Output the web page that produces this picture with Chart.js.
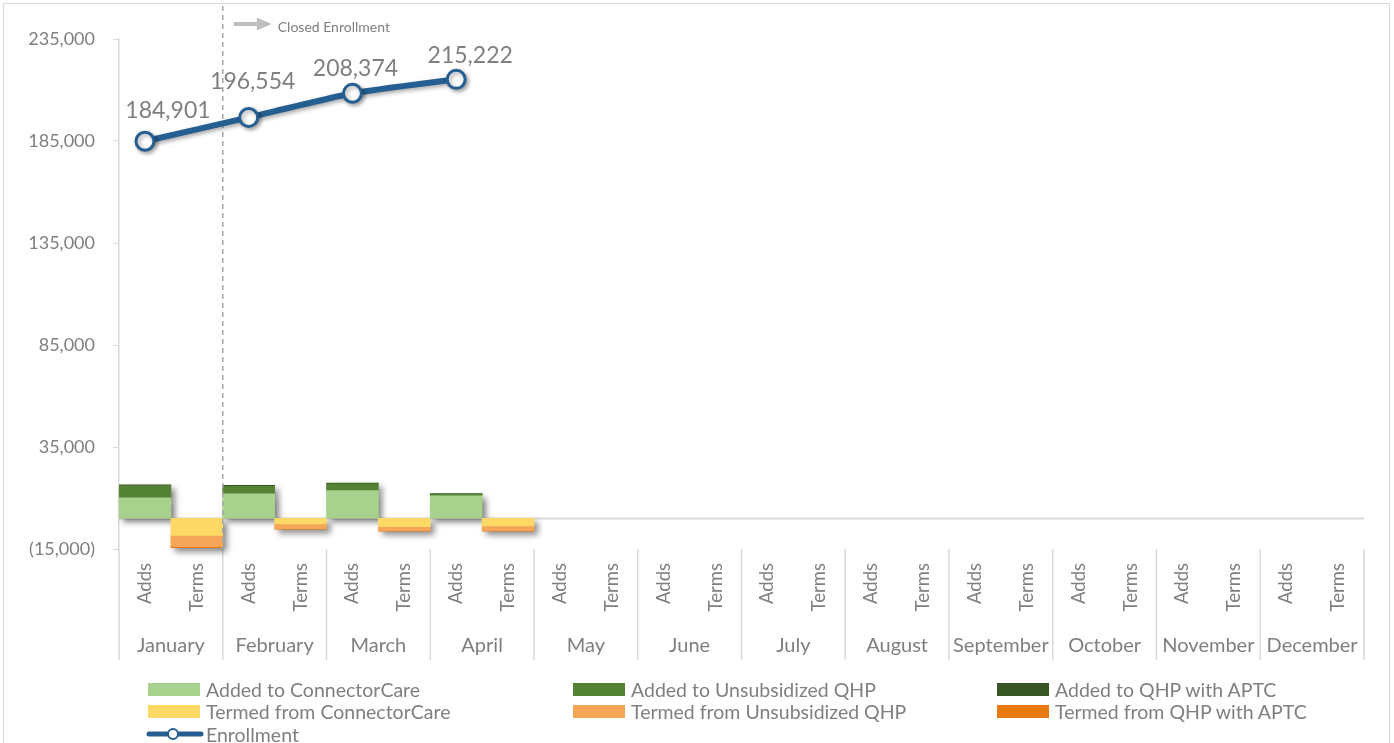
<!DOCTYPE html>
<html>
<head>
<meta charset="utf-8">
<title>Enrollment Adds and Terms</title>
<script src="https://cdn.jsdelivr.net/npm/chart.js@4.4.1/dist/chart.umd.min.js"></script>
<style>
  html, body { margin: 0; padding: 0; background: #fff; }
  #wrap { position: relative; width: 1394px; height: 743px; overflow: hidden; font-family: Lato, 'Noto Sans', sans-serif; }
  #frame { position: absolute; left: 3px; top: 3px; width: 1385px; height: 760px; border: 1px solid #d9d9d9; pointer-events: none; }
  #chart { position: absolute; left: 0; top: 0; }
  #legend { position: absolute; left: 146px; top: 678px; display: grid; grid-template-columns: 425px 424px 380px; row-gap: 0; }
  .item { display: flex; align-items: center; height: 22.5px; color: #7f7f7f; font-size: 19.5px; white-space: nowrap; }
  .swatch { flex: 0 0 52px; width: 52px; height: 13px; margin-left: 2px; margin-right: 6px; }
  .item svg { flex: 0 0 auto; }
</style>
</head>
<body>
<div id="wrap">
  <canvas id="chart" width="1394" height="743"></canvas>
  <div id="legend"></div>
  <div id="frame"></div>
</div>
<script>
const months = ['January', 'February', 'March', 'April', 'May', 'June', 'July', 'August', 'September', 'October', 'November', 'December'];
const subLabels = ['Adds', 'Terms'];
const enrollment = [184901, 196554, 208374, 215222];
const addedConnectorCare = [10100, 12100, 13600, 11100];
const addedUnsubsidized = [6000, 3600, 3400, 800];
const addedAptc = [400, 500, 300, 300];
const termedConnectorCare = [-8300, -2700, -4000, -3700];
const termedUnsubsidized = [-5600, -2300, -2000, -2300];
const termedAptc = [-500, -300, -200, -200];
const yTicks = [-15000, 35000, 85000, 135000, 185000, 235000];

// where each enrollment label sits relative to its point (px)
const labelOffsets = [[23, -31], [4, -36], [3, -25], [14, -24]];

const gray = '#7f7f7f';
const lineBlue = '#255e91';
const baseFont = 'Lato, "Noto Sans", sans-serif';

// one slot per month half: even index = Adds, odd index = Terms
const labels = [];
months.forEach(() => subLabels.forEach(s => labels.push(s)));

function spread(values, slot) {
    const out = new Array(months.length * 2).fill(null);
    values.forEach((v, i) => { out[i * 2 + slot] = v; });
    return out;
}

function fmt(v) {
    const s = Math.abs(v).toLocaleString('en-US');
    return v < 0 ? '(' + s + ')' : s;
}

const datasets = [
    {
        type: 'line', label: 'Enrollment', data: spread(enrollment, 0), order: 0,
        borderColor: lineBlue, borderWidth: 6, spanGaps: true, tension: 0.15,
        pointRadius: 9, pointBorderWidth: 3, pointBackgroundColor: '#fff', pointBorderColor: lineBlue,
        borderCapStyle: 'round'
    },
    { label: 'Added to ConnectorCare', data: spread(addedConnectorCare, 0), backgroundColor: '#a9d18e' },
    { label: 'Added to Unsubsidized QHP', data: spread(addedUnsubsidized, 0), backgroundColor: '#548235' },
    { label: 'Added to QHP with APTC', data: spread(addedAptc, 0), backgroundColor: '#375623' },
    { label: 'Termed from ConnectorCare', data: spread(termedConnectorCare, 1), backgroundColor: '#ffd966' },
    { label: 'Termed from Unsubsidized QHP', data: spread(termedUnsubsidized, 1), backgroundColor: '#f4a557' },
    { label: 'Termed from QHP with APTC', data: spread(termedAptc, 1), backgroundColor: '#e8790f' }
];
datasets.slice(1).forEach(d => {
    d.type = 'bar';
    d.order = 1;
    d.stack = 'flow';
    d.barPercentage = 1;
    d.categoryPercentage = 1;
    d.borderWidth = 0;
});

// dashed divider between January and February with the "Closed Enrollment" arrow
function drawClosedMarker(chart) {
    const ctx = chart.ctx;
    const x = chart.scales.x;
    const bx = (x.getPixelForValue(1) + x.getPixelForValue(2)) / 2;
    ctx.save();
    ctx.strokeStyle = '#a6a6a6';
    ctx.lineWidth = 1.5;
    ctx.setLineDash([5, 4]);
    ctx.beginPath();
    ctx.moveTo(bx, 6);
    ctx.lineTo(bx, chart.chartArea.bottom);
    ctx.stroke();
    ctx.setLineDash([]);
    ctx.fillStyle = '#bfbfbf';
    ctx.fillRect(bx + 11, 22, 25, 4);
    ctx.beginPath();
    ctx.moveTo(bx + 34, 17.5);
    ctx.lineTo(bx + 49, 24);
    ctx.lineTo(bx + 34, 30.5);
    ctx.closePath();
    ctx.fill();
    ctx.fillStyle = gray;
    ctx.font = '14px ' + baseFont;
    ctx.textAlign = 'left';
    ctx.textBaseline = 'middle';
    ctx.fillText('Closed Enrollment', bx + 55, 27);
    ctx.restore();
}

// zero line, month separators, and one shared shadow pass under the bar stacks
const axisPlugin = {
    id: 'axisLines',
    beforeDatasetsDraw(chart) {
        const ctx = chart.ctx;
        const x = chart.scales.x, y = chart.scales.y, x2 = chart.scales.x2;
        const area = chart.chartArea;
        ctx.save();
        ctx.strokeStyle = '#d9d9d9';
        ctx.lineWidth = 2;
        const y0 = y.getPixelForValue(0);
        ctx.beginPath();
        ctx.moveTo(area.left, y0);
        ctx.lineTo(area.right, y0);
        ctx.stroke();
        ctx.lineWidth = 1.5;
        const step = x.width / months.length;
        for (let i = 0; i <= months.length; i++) {
            const px = x.left + i * step;
            ctx.beginPath();
            ctx.moveTo(px, area.bottom);
            ctx.lineTo(px, x2.bottom);
            ctx.stroke();
        }
        ctx.restore();

        // shadows only: shapes are drawn far off-canvas, their shadows land under the bars
        const far = 10000;
        ctx.save();
        ctx.shadowColor = 'rgba(0,0,0,0.5)';
        ctx.shadowBlur = 6;
        ctx.shadowOffsetX = far + 4;
        ctx.shadowOffsetY = 4;
        ctx.fillStyle = '#000';
        chart.data.datasets.forEach((ds, di) => {
            if (ds.type !== 'bar') return;
            chart.getDatasetMeta(di).data.forEach((bar, i) => {
                if (ds.data[i] == null) return;
                const p = bar.getProps(['x', 'y', 'base', 'width'], true);
                const top = Math.min(p.y, p.base), h = Math.abs(p.base - p.y);
                if (h < 0.5) return;
                ctx.fillRect(p.x - p.width / 2 - far, top, p.width, h);
            });
        });
        ctx.restore();
    },
    beforeDatasetDraw(chart, args) {
        if (chart.data.datasets[args.index].type !== 'line') return;
        drawClosedMarker(chart);
        const ctx = chart.ctx;
        ctx.save();
        ctx.shadowColor = 'rgba(0,0,0,0.35)';
        ctx.shadowBlur = 4;
        ctx.shadowOffsetX = 2;
        ctx.shadowOffsetY = 2;
    },
    afterDatasetDraw(chart, args) {
        if (chart.data.datasets[args.index].type !== 'line') return;
        chart.ctx.restore();
    }
};

// value labels above each enrollment point
const valueLabels = {
    id: 'valueLabels',
    afterDatasetsDraw(chart) {
        const ctx = chart.ctx;
        const meta = chart.getDatasetMeta(0);
        ctx.save();
        ctx.fillStyle = gray;
        ctx.font = '23px ' + baseFont;
        ctx.textAlign = 'center';
        ctx.textBaseline = 'middle';
        enrollment.forEach((v, i) => {
            const pt = meta.data[i * 2];
            const off = labelOffsets[i];
            ctx.fillText(fmt(v), pt.x + off[0], pt.y + off[1]);
        });
        ctx.restore();
    }
};

const chart = new Chart(document.getElementById('chart'), {
    data: { labels: labels, datasets: datasets },
    options: {
        responsive: false,
        animation: false,
        layout: { padding: { left: 10, right: 30, top: 39, bottom: 83 } },
        plugins: {
            legend: { display: false },
            tooltip: { enabled: false }
        },
        scales: {
            x: {
                stacked: true,
                weight: 0,
                grid: { display: false, drawTicks: false },
                border: { display: false },
                ticks: {
                    color: gray, font: { size: 18.5, family: baseFont },
                    minRotation: 90, maxRotation: 90, autoSkip: false, padding: 14
                },
                afterFit(scale) { scale.height = 80; }
            },
            x2: {
                type: 'category',
                labels: months,
                position: 'bottom',
                weight: 1,
                offset: true,
                grid: { display: false, drawTicks: false },
                border: { display: false },
                ticks: { color: gray, font: { size: 20, family: baseFont }, padding: 5, maxRotation: 0, autoSkip: false },
                afterFit(scale) { scale.height = 31; }
            },
            y: {
                stacked: true,
                min: -15000,
                max: 235000,
                grid: { display: true, drawOnChartArea: false, drawTicks: true, tickLength: 6, color: '#d9d9d9' },
                border: { display: true, color: '#d9d9d9', width: 1.5 },
                ticks: {
                    color: gray, font: { size: 18, family: baseFont }, padding: 18,
                    callback: v => fmt(v)
                },
                afterBuildTicks(scale) { scale.ticks = yTicks.map(v => ({ value: v })); },
                afterFit(scale) { scale.width = 109; }
            }
        }
    },
    plugins: [axisPlugin, valueLabels]
});

// legend laid out in three columns like the report
const legend = document.getElementById('legend');
const legendOrder = [1, 2, 3, 4, 5, 6, 0];
legendOrder.forEach(i => {
    const ds = chart.data.datasets[i];
    const item = document.createElement('div');
    item.className = 'item';
    if (ds.type === 'line') {
        item.innerHTML = '<svg width="58" height="16" style="margin-right:2px"><line x1="3" y1="8" x2="55" y2="8" stroke="' + lineBlue +
            '" stroke-width="5" stroke-linecap="round"/><circle cx="27" cy="8" r="5" fill="#fff" stroke="' + lineBlue + '" stroke-width="2"/></svg>';
    } else {
        item.innerHTML = '<div class="swatch" style="background:' + ds.backgroundColor + '"></div>';
    }
    item.appendChild(document.createTextNode(ds.label));
    legend.appendChild(item);
});
</script>
</body>
</html>
